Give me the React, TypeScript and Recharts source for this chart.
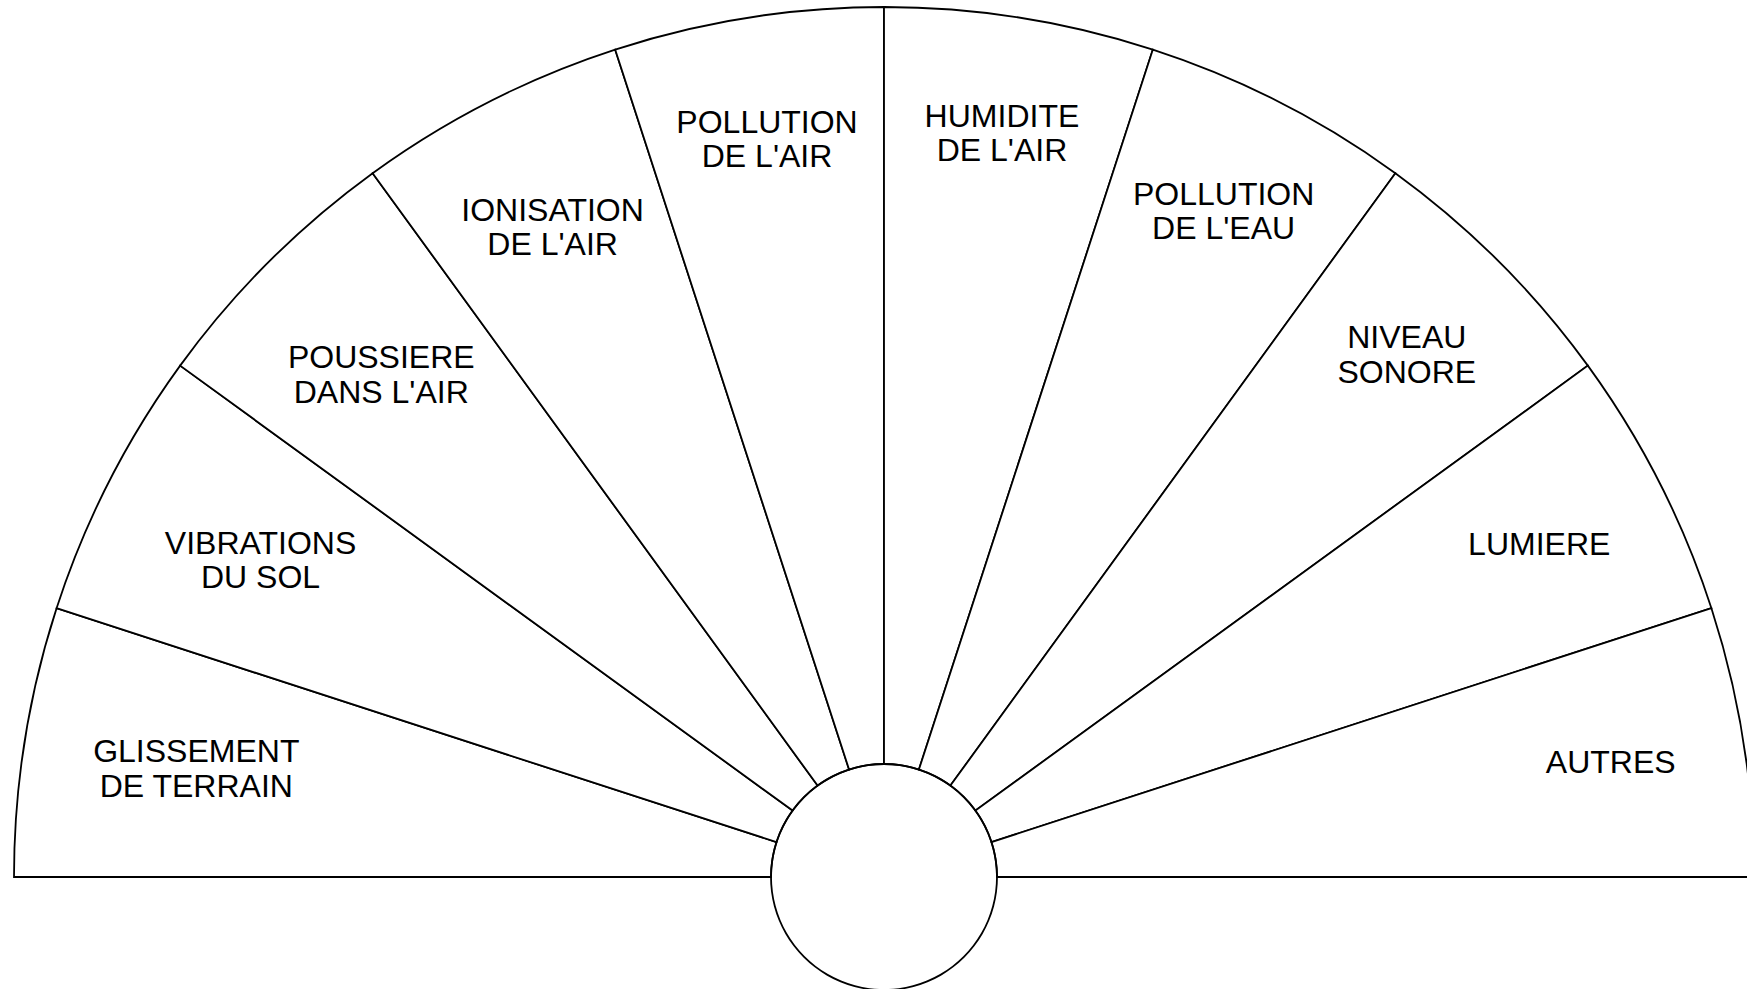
import React from "react";
import { PieChart, Pie, Cell } from "recharts";

const categories: string[] = [
  "GLISSEMENT\nDE TERRAIN",
  "VIBRATIONS\nDU SOL",
  "POUSSIERE\nDANS L'AIR",
  "IONISATION\nDE L'AIR",
  "POLLUTION\nDE L'AIR",
  "HUMIDITE\nDE L'AIR",
  "POLLUTION\nDE L'EAU",
  "NIVEAU\nSONORE",
  "LUMIERE",
  "AUTRES",
];
const sectorValues: number[] = [1, 1, 1, 1, 1, 1, 1, 1, 1, 1];
const hubValues: number[] = [1];

const data = categories.map((name, i) => ({ name, value: sectorValues[i] }));
const hubData = hubValues.map((value) => ({ name: "hub", value }));

const W = 1747;
const H = 989;
const CX = 884;
const CY = 877;
const R_OUT = 870;
const R_IN = 113;
const FONT = 32;
const LINE = 34.5;
const SW = 1.8;

const RAD = Math.PI / 180;

const renderLabel = (props: any) => {
  const { cx, cy, midAngle, outerRadius, index } = props;
  const s = Math.abs(Math.sin(midAngle * RAD));
  const c = Math.cos(midAngle * RAD);
  const r = outerRadius * (0.823 + 0.042 * Math.pow(s, 4) + 0.023 * c);
  const x = cx + r * Math.cos(-midAngle * RAD);
  const y = cy + r * Math.sin(-midAngle * RAD);
  const lines = categories[index].split("\n");
  const n = lines.length;
  const firstBaseline = y - ((n - 1) * LINE) / 2 + FONT * 0.358;
  return (
    <text
      key={`lbl-${index}`}
      x={x}
      y={firstBaseline}
      textAnchor="middle"
      fill="#000"
      fontSize={FONT}
      fontFamily="'Liberation Sans', Arial, Helvetica, sans-serif"
    >
      {lines.map((ln, i) => (
        <tspan key={i} x={x} y={firstBaseline + i * LINE}>
          {ln}
        </tspan>
      ))}
    </text>
  );
};

export default function App() {
  return (
    <div style={{ position: "absolute", left: 0, top: 0, width: W, height: H, background: "#fff", overflow: "hidden" }}>
      <PieChart width={W} height={H} margin={{ top: 0, right: 0, bottom: 0, left: 0 }}>
        <Pie
          data={data}
          dataKey="value"
          nameKey="name"
          cx={CX}
          cy={CY}
          startAngle={180}
          endAngle={0}
          innerRadius={R_IN}
          outerRadius={R_OUT}
          paddingAngle={0}
          stroke="#000"
          strokeWidth={SW}
          fill="#fff"
          label={renderLabel}
          labelLine={false}
          isAnimationActive={false}
        >
          {data.map((_, i) => (
            <Cell key={i} fill="#fff" stroke="#000" strokeWidth={SW} />
          ))}
        </Pie>
        <Pie
          data={hubData}
          dataKey="value"
          cx={CX}
          cy={CY}
          startAngle={90}
          endAngle={450}
          innerRadius={R_IN - SW / 2}
          outerRadius={R_IN + SW / 2}
          stroke="none"
          fill="#000"
          label={false}
          labelLine={false}
          isAnimationActive={false}
        />
      </PieChart>
    </div>
  );
}
